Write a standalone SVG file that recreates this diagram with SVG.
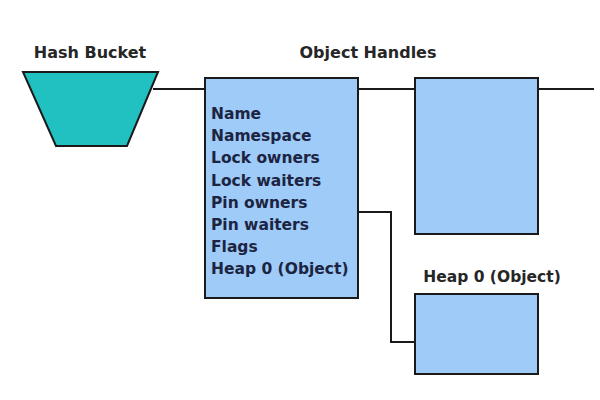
<svg xmlns="http://www.w3.org/2000/svg" width="600" height="400" viewBox="0 0 600 400">
<style>
.hdr{font-family:"DejaVu Sans","Liberation Sans",sans-serif;font-weight:bold;font-size:16px;fill:#262626}
.lbl{font-family:"DejaVu Sans","Liberation Sans",sans-serif;font-weight:bold;font-size:15.5px;fill:#262626}
.fld{font-family:"DejaVu Sans","Liberation Sans",sans-serif;font-weight:bold;font-size:15.5px;fill:#1c2442}
.box{fill:#9ecbf7;stroke:#1a1a1a;stroke-width:2}
.bucket{fill:#22c1c1;stroke:#1a1a1a;stroke-width:2}
.conn{fill:none;stroke:#1a1a1a;stroke-width:2}
</style>
<rect width="600" height="400" fill="#ffffff"/>
<g id="connectors">
<line class="conn" x1="153" y1="89" x2="205" y2="89"/>
<line class="conn" x1="358" y1="89" x2="415" y2="89"/>
<line class="conn" x1="538" y1="89" x2="594" y2="89"/>
<polyline class="conn" points="358,212 391,212 391,342 415,342"/>
</g>
<g id="hash-bucket">
<text class="hdr" x="90" y="58" text-anchor="middle">Hash Bucket</text>
<polygon class="bucket" points="23,72 158,72 127,146 56,146"/>
</g>
<g id="object-handle-1">
<text class="hdr" x="368" y="58" text-anchor="middle">Object Handles</text>
<rect class="box" x="205" y="78" width="153" height="220"/>
<text class="fld" x="211" y="119">Name</text>
<text class="fld" x="211" y="141.2">Namespace</text>
<text class="fld" x="211" y="163.4">Lock owners</text>
<text class="fld" x="211" y="185.6">Lock waiters</text>
<text class="fld" x="211" y="207.8">Pin owners</text>
<text class="fld" x="211" y="230">Pin waiters</text>
<text class="fld" x="211" y="252.2">Flags</text>
<text class="fld" x="211" y="274.4">Heap 0 (Object)</text>
</g>
<g id="object-handle-2">
<rect class="box" x="415" y="78" width="123" height="156"/>
</g>
<g id="heap-0">
<text class="lbl" x="492" y="282" text-anchor="middle">Heap 0 (Object)</text>
<rect class="box" x="415" y="294" width="123" height="80"/>
</g>
</svg>
